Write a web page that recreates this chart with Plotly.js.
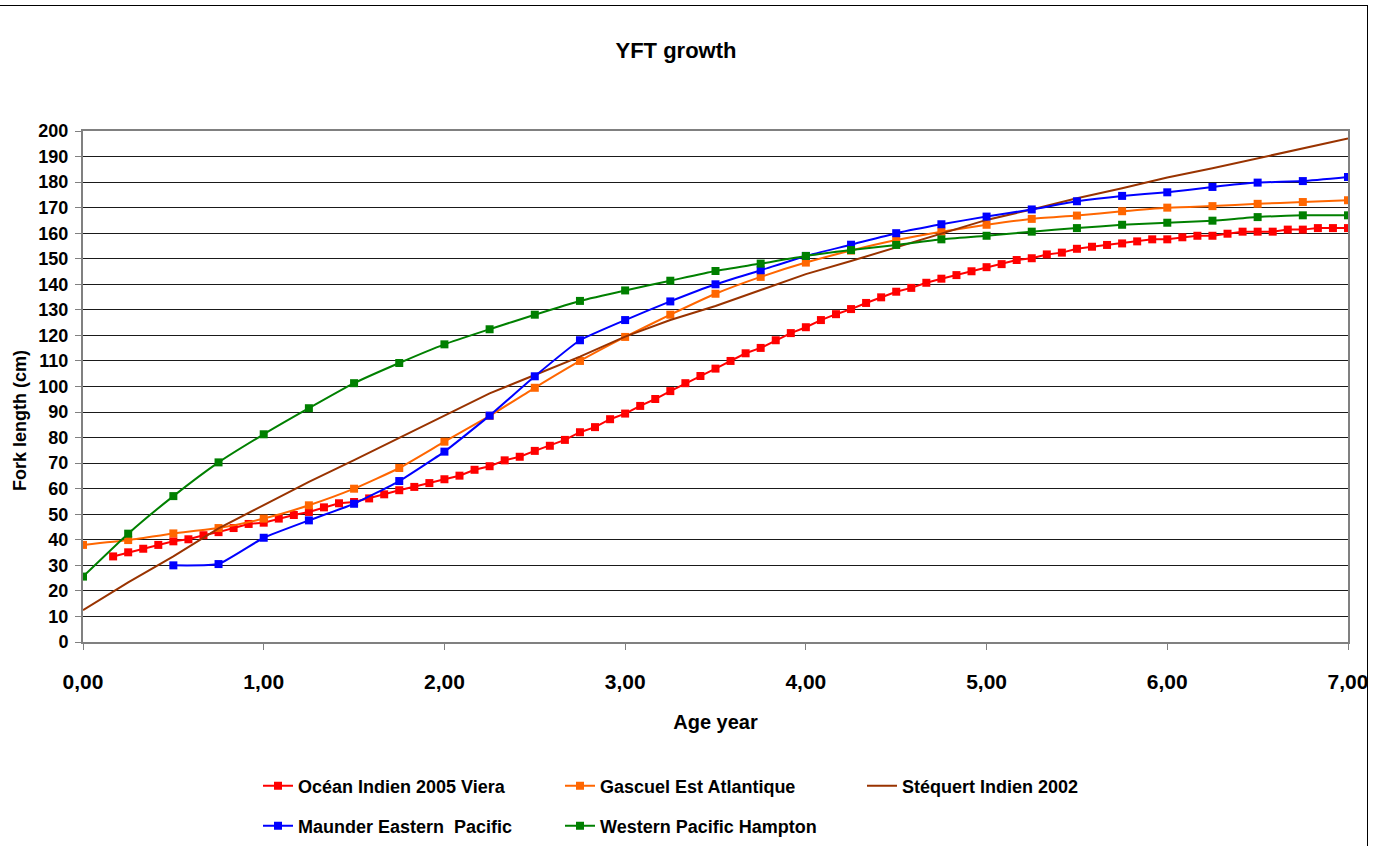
<!DOCTYPE html>
<html>
<head>
<meta charset="utf-8">
<script src="https://cdn.plot.ly/plotly-3.0.1.min.js"></script>
<style>
  html, body { margin: 0; padding: 0; background: #fff; }
  #wrap { position: relative; width: 1381px; height: 846px; overflow: hidden; }
  #chart { width: 1381px; height: 920px; }
  #frame { position: absolute; left: -2px; top: 5px; width: 1369px; height: 860px;
           border-top: 1px solid #000; border-right: 1px solid #000; pointer-events: none; }
</style>
</head>
<body>
<div id="wrap">
  <div id="chart"></div>
  <div id="frame"></div>
</div>
<script>
// ---- Data ----
const seriesNames = ["Océan Indien 2005 Viera", "Gascuel Est Atlantique", "Stéquert Indien 2002",
                     "Maunder Eastern\u00a0 Pacific", "Western Pacific Hampton"];

// Viera: monthly ages (months 2..84)
const vieraMonths = [2,3,4,5,6,7,8,9,10,11,12,13,14,15,16,17,18,19,20,21,22,23,24,25,
  26,27,28,29,30,31,32,33,34,35,36,37,38,39,40,41,42,43,44,45,46,47,48,
  49,50,51,52,53,54,55,56,57,58,59,60,61,62,63,64,65,66,67,68,69,70,71,72,
  73,74,75,76,77,78,79,80,81,82,83,84];
const vieraLength = [33.5,35.1,36.5,38.0,39.4,40.2,41.8,43.0,44.6,46.2,46.7,48.3,49.7,50.9,52.7,54.3,54.8,56.2,57.8,59.4,60.7,62.2,63.7,65.1,
  67.4,68.8,71.1,72.5,74.8,76.8,79.1,82.1,84.1,87.2,89.4,92.4,95.1,98.2,101.3,104.1,107.0,110.0,113.0,115.1,118.1,120.9,123.2,
  126.0,128.3,130.3,132.7,134.9,137.1,138.6,140.6,142.2,143.6,145.1,146.7,147.9,149.5,150.2,151.7,152.4,153.9,154.7,155.4,156.0,156.8,157.6,157.6,
  158.4,159.0,159.0,159.8,160.6,160.6,160.6,161.4,161.4,162.0,162.0,162.0];

// Quarterly ages
const ageQuarter = [0,0.25,0.5,0.75,1,1.25,1.5,1.75,2,2.25,2.5,2.75,3,3.25,3.5,3.75,4,4.25,4.5,4.75,5,5.25,5.5,5.75,6,6.25,6.5,6.75,7];
const gascuelLength = [38.0,39.9,42.5,44.6,48.3,53.5,60.0,68.1,78.4,88.5,99.5,110.0,119.4,128.1,136.3,142.9,148.5,153.2,157.3,160.6,163.3,165.6,166.9,168.6,170.0,170.6,171.5,172.2,172.9];
const stequertLength = [12.5,23.3,33.5,44.5,53.6,62.7,71.2,80.0,88.8,97.3,104.5,111.7,119.5,126.0,131.5,137.8,144.0,149.1,154.5,159.7,165.2,169.3,173.7,177.6,181.8,185.4,189.3,193.3,197.1];
const hamptonLength = [25.6,42.4,57.1,70.3,81.3,91.5,101.3,109.2,116.5,122.4,128.1,133.5,137.6,141.4,145.2,148.1,151.1,153.4,155.4,157.6,159.0,160.6,162.0,163.3,164.1,164.9,166.3,167.0,167.0];

const maunderAge = [0.5,0.75,1,1.25,1.5,1.75,2,2.25,2.5,2.75,3,3.25,3.5,3.75,4,4.25,4.5,4.75,5,5.25,5.5,5.75,6,6.25,6.5,6.75,7];
const maunderLength = [30.0,30.5,40.8,47.6,54.1,63.0,74.5,88.6,104.0,118.1,126.0,133.3,140.0,145.5,151.1,155.5,160.0,163.5,166.5,169.3,172.5,174.6,176.0,178.1,179.8,180.4,182.0];

const xTicks = [0,1,2,3,4,5,6,7];

// ---- Styles ----
const FONT = "'Liberation Sans', Arial, sans-serif";
const colors = { viera: "#FF0000", gascuel: "#FF6600", stequert: "#993300", maunder: "#0000FF", hampton: "#008000" };

const H = 920;          // drawing height (page clips to 846)
const PLOT_TOP = 131, PLOT_BOTTOM = 642, PLOT_LEFT = 83, PLOT_RIGHT = 1348;
const PH = PLOT_BOTTOM - PLOT_TOP, PW = PLOT_RIGHT - PLOT_LEFT;

const traces = [
  { x: vieraMonths.map(m => m / 12), y: vieraLength, name: seriesNames[0], type: "scatter", mode: "lines+markers",
    line: { color: colors.viera, width: 2 }, marker: { symbol: "square", size: 8, color: colors.viera }, legend: "legend" },
  { x: ageQuarter, y: gascuelLength, name: seriesNames[1], type: "scatter", mode: "lines+markers",
    line: { color: colors.gascuel, width: 2, shape: "spline", smoothing: 0.5 }, marker: { symbol: "square", size: 8, color: colors.gascuel }, legend: "legend" },
  { x: ageQuarter, y: stequertLength, name: seriesNames[2], type: "scatter", mode: "lines",
    line: { color: colors.stequert, width: 2 }, legend: "legend" },
  { x: maunderAge, y: maunderLength, name: seriesNames[3], type: "scatter", mode: "lines+markers",
    line: { color: colors.maunder, width: 2, shape: "spline", smoothing: 0.4 }, marker: { symbol: "square", size: 8, color: colors.maunder }, legend: "legend2" },
  { x: ageQuarter, y: hamptonLength, name: seriesNames[4], type: "scatter", mode: "lines+markers",
    line: { color: colors.hampton, width: 2, shape: "spline", smoothing: 0.5 }, marker: { symbol: "square", size: 8, color: colors.hampton }, legend: "legend2" }
];

const legendCommon = {
  orientation: "h", xanchor: "left", yanchor: "middle",
  font: { family: FONT, size: 18, color: "#000", weight: "bold" },
  entrywidth: 257, entrywidthmode: "pixels", itemwidth: 30,
  bgcolor: "rgba(0,0,0,0)", traceorder: "normal", itemclick: false, itemdoubleclick: false
};

const layout = {
  width: 1381, height: H,
  paper_bgcolor: "#fff", plot_bgcolor: "#fff",
  margin: { l: PLOT_LEFT, r: 1381 - PLOT_RIGHT, t: PLOT_TOP, b: H - PLOT_BOTTOM, pad: 0, autoexpand: false },
  separators: ", ",
  showlegend: true,
  hovermode: false,
  title: { text: "<b>YFT growth</b>", x: 676 / 1381, xref: "container", xanchor: "center", y: 1 - 50 / H, yref: "container", yanchor: "middle",
           font: { family: FONT, size: 22, color: "#000" } },
  xaxis: {
    range: [0, 7], tickvals: xTicks, tickformat: ".2f", automargin: false,
    showgrid: false, zeroline: false,
    showline: true, linecolor: "#808080", linewidth: 2, mirror: true,
    ticks: "outside", ticklen: 6, tickcolor: "#808080", tickwidth: 1,
    tickfont: { family: FONT, size: 21, color: "#000", weight: "bold" },
    ticklabelstandoff: 14,
    title: { text: "<b>Age year</b>", font: { family: FONT, size: 20, color: "#000" }, standoff: 23 }
  },
  yaxis: {
    range: [0, 200], dtick: 10, tick0: 0, automargin: false,
    showgrid: true, gridcolor: "#1a1a1a", gridwidth: 1,
    zeroline: false,
    showline: true, linecolor: "#808080", linewidth: 2, mirror: true,
    ticks: "outside", ticklen: 6, tickcolor: "#808080", tickwidth: 1,
    tickfont: { family: FONT, size: 18, color: "#000", weight: "bold" },
    ticklabelstandoff: 3,
    title: { text: "" }
  },
  legend: Object.assign({}, legendCommon, { x: (258 - PLOT_LEFT) / PW, y: (PLOT_BOTTOM - 786) / PH }),
  legend2: Object.assign({}, legendCommon, { x: (258 - PLOT_LEFT) / PW, y: (PLOT_BOTTOM - 826) / PH }),
  annotations: [
    { text: "<b>Fork length (cm)</b>", xref: "paper", yref: "paper", x: (20 - PLOT_LEFT) / PW, y: (PLOT_BOTTOM - 421) / PH,
      xanchor: "center", yanchor: "middle", textangle: -90, showarrow: false,
      font: { family: FONT, size: 18, color: "#000" } }
  ]
};

Plotly.newPlot("chart", traces, layout, { staticPlot: true, displayModeBar: false });
</script>
</body>
</html>
